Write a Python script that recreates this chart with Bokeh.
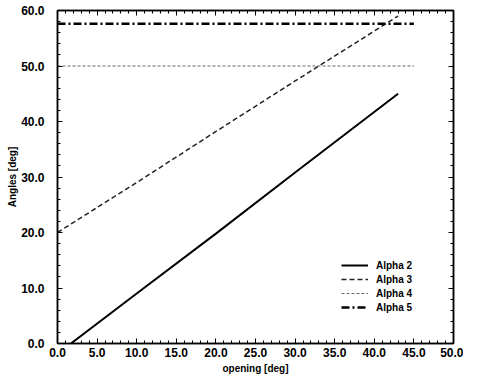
from bokeh.plotting import figure
from bokeh.models import (LinearAxis, SingleIntervalTicker, PrintfTickFormatter,
                          Range1d, Legend, LegendItem)
from bokeh.embed import file_html
from bokeh.resources import INLINE

# data
alpha2_x = [1.7, 10.0, 20.0, 30.0, 43.0]
alpha2_y = [0.0, 9.0, 19.8, 30.8, 45.0]
alpha3_x = [0.0, 10.0, 20.0, 30.0, 43.0]
alpha3_y = [20.0, 29.0, 38.2, 47.3, 59.0]
alpha4_x = [0.0, 45.0]
alpha4_y = [50.0, 50.0]
alpha5_x = [0.0, 45.0]
alpha5_y = [57.6, 57.6]
labels = ["Alpha 2", "Alpha 3", "Alpha 4", "Alpha 5"]

FONT = "Liberation Sans"

p = figure(frame_width=396, frame_height=333, output_backend="svg", toolbar_location=None,
           x_range=Range1d(0, 50), y_range=Range1d(0, 60),
           min_border_left=57, min_border_right=10, min_border_top=10, min_border_bottom=20)
p.background_fill_color = "white"
p.border_fill_color = "white"
p.grid.visible = False
p.outline_line_color = "black"
p.outline_line_width = 1.5

def style_axis(ax, show_labels=True):
    ax.axis_line_color = "black"
    ax.axis_line_width = 1.5
    ax.major_tick_in = 5
    ax.major_tick_out = 0
    ax.minor_tick_in = 3
    ax.minor_tick_out = 0
    ax.major_tick_line_color = "black"
    ax.minor_tick_line_color = "black"
    ax.major_label_text_font = FONT
    ax.major_label_text_font_style = "bold"
    if show_labels:
        ax.major_label_text_font_size = "12px"
        ax.major_label_text_color = "black"
    else:
        ax.major_label_text_font_size = "1px"
        ax.major_label_text_color = None
    ax.axis_label_text_font = FONT
    ax.axis_label_text_font_style = "bold"
    ax.axis_label_text_font_size = "10px"
    ax.axis_label_text_color = "black"
    ax.formatter = PrintfTickFormatter(format="%.1f")

p.xaxis.ticker = SingleIntervalTicker(interval=5, num_minor_ticks=5)
p.yaxis.ticker = SingleIntervalTicker(interval=10, num_minor_ticks=5)
style_axis(p.xaxis[0])
style_axis(p.yaxis[0])
p.xaxis.axis_label = "opening [deg]"
p.yaxis.axis_label = "Angles [deg]"
p.xaxis.major_label_standoff = 4
p.xaxis.axis_label_standoff = 3
p.yaxis.major_label_standoff = 13
p.yaxis.axis_label_standoff = 0

top = LinearAxis(ticker=SingleIntervalTicker(interval=5, num_minor_ticks=5))
style_axis(top, False)
top.major_label_standoff = 0
p.add_layout(top, "above")
right = LinearAxis(ticker=SingleIntervalTicker(interval=10, num_minor_ticks=5))
style_axis(right, False)
right.major_label_standoff = 0
p.add_layout(right, "right")

r2 = p.line(alpha2_x, alpha2_y, line_color="black", line_width=2)
r3 = p.line(alpha3_x, alpha3_y, line_color="#222222", line_width=1.5, line_dash="5 3")
r4 = p.line(alpha4_x, alpha4_y, line_color="#666666", line_width=1, line_dash="3 2")
r5 = p.line(alpha5_x, alpha5_y, line_color="black", line_width=2.5, line_dash="8 3 2 3")

legend = Legend(items=[LegendItem(label=l, renderers=[r]) for l, r in zip(labels, [r2, r3, r4, r5])],
                location=(284, 29), padding=0, margin=0, spacing=0,
                glyph_width=27, glyph_height=14, label_height=14, label_standoff=8,
                label_text_font=FONT, label_text_font_style="bold",
                label_text_font_size="10px", label_text_color="black",
                border_line_color=None, background_fill_alpha=0)
p.add_layout(legend)

open("out.html", "w").write(file_html(p, INLINE))
